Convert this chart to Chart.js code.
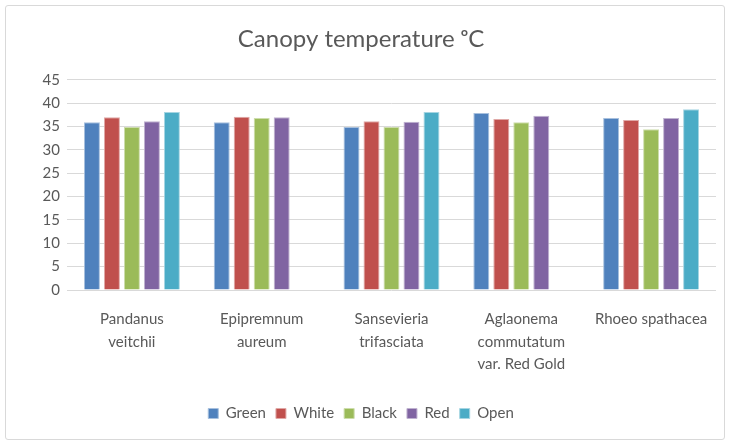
<!DOCTYPE html>
<html>
<head>
<meta charset="utf-8">
<script src="https://cdn.jsdelivr.net/npm/chart.js@4/dist/chart.umd.min.js"></script>
<style>
  html, body { margin: 0; padding: 0; background: #fff; }
  #box {
    position: absolute; left: 5px; top: 5px; width: 718px; height: 433px;
    border: 1px solid #d9d9d9; border-radius: 3px; background: #fff;
  }
  canvas { display: block; }
</style>
</head>
<body>
<div id="box"><canvas id="c" width="718" height="433"></canvas></div>
<script>
// Canopy temperature per plant and cover colour
const plants = [
  ['Pandanus', 'veitchii'],
  ['Epipremnum', 'aureum'],
  ['Sansevieria', 'trifasciata'],
  ['Aglaonema', 'commutatum', 'var. Red Gold'],
  ['Rhoeo spathacea']
];
const green = [35.9, 35.9, 34.9, 37.9, 36.8];
const white = [37.0, 37.1, 36.1, 36.6, 36.4];
const black = [34.9, 36.8, 34.9, 35.9, 34.4];
const red   = [36.1, 37.0, 36.0, 37.3, 36.8];
const open  = [38.1, null, 38.1, null, 38.7];
const yTicks = [0, 5, 10, 15, 20, 25, 30, 35, 40, 45];

const series = [
  { label: 'Green', data: green, color: '#4f81bd', edge: '#a7c0de' },
  { label: 'White', data: white, color: '#c0504d', edge: '#e0a8a6' },
  { label: 'Black', data: black, color: '#9bbb59', edge: '#cdddac' },
  { label: 'Red',   data: red,   color: '#8064a2', edge: '#bfb2d0' },
  { label: 'Open',  data: open,  color: '#4bacc6', edge: '#a5d5e2' }
];

const txt = '#595959';
const font = 'Lato, "Open Sans", sans-serif';

new Chart(document.getElementById('c').getContext('2d'), {
  type: 'bar',
  data: {
    labels: plants,
    datasets: series.map(s => ({
      label: s.label,
      data: s.data,
      backgroundColor: s.color,
      borderColor: s.edge,
      borderWidth: 1,
      barPercentage: 0.8,
      categoryPercentage: 0.77
    }))
  },
  options: {
    responsive: false,
    animation: false,
    layout: { padding: { left: 0, right: 8, top: 0, bottom: 8 } },
    plugins: {
      title: {
        display: true,
        text: 'Canopy temperature \u1d52C',
        color: txt,
        font: { family: font, size: 24, weight: 'normal' },
        padding: { top: 19, bottom: 26 }
      },
      legend: {
        position: 'bottom',
        labels: {
          color: txt,
          font: { family: font, size: 15 },
          boxWidth: 10, boxHeight: 10,
          padding: 10
        }
      },
      tooltip: { enabled: false }
    },
    scales: {
      x: {
        grid: { display: false },
        border: { display: false },
        ticks: { color: txt, font: { family: font, size: 15, lineHeight: 1.5 }, maxRotation: 0, autoSkip: false, padding: 10 },
        afterFit: (s) => { s.height = 106; }
      },
      y: {
        min: 0, max: 45,
        afterBuildTicks: (s) => { s.ticks = yTicks.map(v => ({ value: v })); },
        grid: { color: '#d9d9d9', lineWidth: 1, drawTicks: false },
        border: { display: false },
        ticks: { color: txt, font: { family: font, size: 15 }, padding: 7 },
        afterFit: (s) => { s.width = 61; }
      }
    }
  }
});
</script>
</body>
</html>
